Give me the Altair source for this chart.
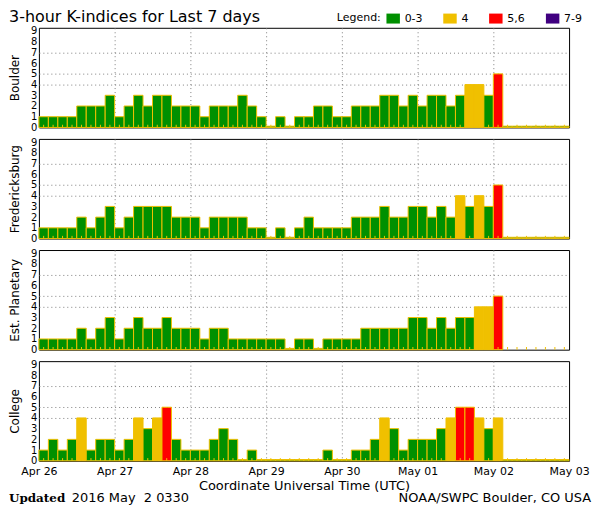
import json
import altair as alt
import pandas as pd

FONT = "DejaVu Sans"
TITLE = "3-hour K-indices for Last 7 days"
STATIONS = ["Boulder", "Fredericksburg", "Est. Planetary", "College"]

BOULDER = [1, 1, 1, 1, 2, 2, 2, 3,
           1, 2, 3, 2, 3, 3, 2, 2,
           2, 1, 2, 2, 2, 3, 2, 1,
           0, 1, 0, 1, 1, 2, 2, 1,
           1, 2, 2, 2, 3, 3, 2, 3,
           2, 3, 3, 2, 3, 4, 4, 3,
           5, 0, 0, 0, 0, 0, 0, 0]
FREDERICKSBURG = [1, 1, 1, 1, 2, 1, 2, 3,
                  1, 2, 3, 3, 3, 3, 2, 2,
                  2, 1, 2, 2, 2, 2, 1, 1,
                  0, 1, 0, 1, 2, 1, 1, 1,
                  1, 2, 2, 2, 3, 2, 2, 3,
                  3, 2, 3, 2, 4, 3, 4, 3,
                  5, 0, 0, 0, 0, 0, 0, 0]
PLANETARY = [1, 1, 1, 1, 2, 1, 2, 3,
             1, 2, 3, 2, 2, 3, 2, 2,
             2, 1, 2, 2, 1, 1, 1, 1,
             1, 1, 0, 1, 1, 0, 1, 1,
             1, 1, 2, 2, 2, 2, 2, 3,
             3, 2, 3, 2, 3, 3, 4, 4,
             5, None, None, None, None, None, None, None]
COLLEGE = [1, 2, 1, 2, 4, 1, 2, 2,
           1, 2, 4, 3, 4, 5, 2, 1,
           1, 1, 2, 3, 2, 0, 1, 0,
           0, 0, 0, 0, 0, 0, 1, 0,
           0, 1, 1, 2, 4, 3, 1, 2,
           2, 2, 3, 4, 5, 5, 4, 3,
           4, 0, 0, 0, 0, 0, 0, 0]
SERIES = [BOULDER, FREDERICKSBURG, PLANETARY, COLLEGE]

DAY_LABELS = ["Apr 26", "Apr 27", "Apr 28", "Apr 29", "Apr 30", "May 01", "May 02", "May 03"]
SLOTS_PER_DAY = 8
LEVEL_LABELS = ["0-3", "4", "5,6", "7-9"]
LEVEL_COLORS = ["#009000", "#f0c000", "#ff0000", "#400080"]
GRID_LEVELS = [4, 5, 7]
Y_LABELS = list(range(10))
X_TITLE = "Coordinate Universal Time (UTC)"
UPDATED_LABEL = "Updated"
UPDATED_TIME = "2016 May\u00a0 2 0330"
CREDIT = "NOAA/SWPC Boulder, CO USA"

W, H = 532, 100
OUTLINE = "#f0c000"
GRID = "#808080"

n_slots = SLOTS_PER_DAY * (len(DAY_LABELS) - 1)
day_bounds = [i * SLOTS_PER_DAY for i in range(len(DAY_LABELS))]
xscale = alt.Scale(domain=[0, n_slots], nice=False, zero=False)
yscale = alt.Scale(domain=[0, 9.3], nice=False)

y_grid_test = " || ".join(f"datum.value == {g}" for g in GRID_LEVELS)
x_grid_test = f"datum.value > 0 && datum.value < {n_slots}"


def y_axis(title):
    return alt.Axis(
        title=title, values=Y_LABELS, labelFont=FONT, labelFontSize=10,
        labelColor="black", labelPadding=2, labelOverlap=False, labelFlush=False,
        ticks=False, tickSize=0, domain=False, grid=True, gridColor=GRID,
        gridDash=[1, 3], gridOpacity={"condition": {"test": y_grid_test, "value": 1}, "value": 0},
        titleFont=FONT, titleFontSize=12, titleFontWeight="normal", titleColor="black",
        titlePadding=9,
    )


def x_axis(show):
    common = dict(
        values=day_bounds, ticks=False, tickSize=0, domain=False, grid=True,
        gridColor=GRID, gridDash=[1, 3],
        gridOpacity={"condition": {"test": x_grid_test, "value": 1}, "value": 0},
    )
    if not show:
        return alt.Axis(labels=False, title=None, **common)
    return alt.Axis(
        labels=True, title=X_TITLE,
        labelExpr=f"{json.dumps(DAY_LABELS)}[round(datum.value / {SLOTS_PER_DAY})]",
        labelFont=FONT, labelFontSize=11, labelColor="black", labelPadding=5,
        labelFlush=False, labelOverlap=False,
        titleFont=FONT, titleFontSize=13, titleFontWeight="normal", titleColor="black",
        titlePadding=3, **common,
    )


def text_layer(txt, x, y, size=13, align="left", font=FONT, weight="normal"):
    return alt.Chart(pd.DataFrame({"text": [txt]})).mark_text(
        align=align, baseline="alphabetic", font=font, fontSize=size,
        fontWeight=weight, color="black",
    ).encode(text="text:N", x=alt.value(x), y=alt.value(y))


panels = []
for idx, (name, values) in enumerate(zip(STATIONS, SERIES)):
    first = idx == 0
    last = idx == len(STATIONS) - 1
    df = pd.DataFrame({"slot": list(range(n_slots)), "k": values})
    xa = x_axis(last)
    ya = y_axis(name)
    if first:
        legend = alt.Legend(
            orient="none", legendX=299, legendY=-15, direction="horizontal",
            title="Legend:", titleOrient="left", titleFont=FONT, titleFontSize=11,
            titleFontWeight="normal", titleColor="black", titlePadding=6,
            titleBaseline="middle", titleAnchor="middle",
            labelFont=FONT, labelFontSize=11, labelColor="black", labelOffset=6,
            symbolType="M-1.35,-1H1.35V1H-1.35Z", symbolSize=100,
            symbolStrokeWidth=0, symbolOpacity=1, columnPadding=20, padding=0,
        )
    else:
        legend = None
    color = alt.Color("level:N", scale=alt.Scale(domain=LEVEL_LABELS, range=LEVEL_COLORS),
                      legend=legend)
    bars = alt.Chart(df).transform_filter("isValid(datum.k)").transform_calculate(
        end="datum.slot + 1",
        base="0",
        shown="max(datum.k, 0.12)",
        level="datum.k <= 3 ? '0-3' : datum.k == 4 ? '4' : datum.k <= 6 ? '5,6' : '7-9'",
    ).mark_bar(stroke=OUTLINE, strokeWidth=1).encode(
        x=alt.X("slot:Q", scale=xscale, axis=xa),
        x2="end:Q",
        y=alt.Y("shown:Q", scale=yscale, axis=ya),
        y2="base:Q",
        color=color,
    )
    ticks = alt.Chart(df).transform_calculate(
        mid="datum.slot + 0.5", t0="0", t1="0.25",
    ).mark_rule(color=OUTLINE, strokeWidth=1).encode(
        x=alt.X("mid:Q", scale=xscale, axis=xa),
        y=alt.Y("t0:Q", scale=yscale, axis=ya),
        y2="t1:Q",
    )
    layers = [bars, ticks]
    if first:
        layers.append(text_layer(TITLE, -30, -5.5, size=16))
    if last:
        layers.append(text_layer(UPDATED_LABEL, -30, H + 41, size=12, font="DejaVu Serif", weight="bold"))
        layers.append(text_layer(UPDATED_TIME, 33, H + 41, size=13))
        layers.append(text_layer(CREDIT, 554, H + 41, size=13, align="right"))
    panels.append(alt.layer(*layers).properties(width=W, height=H))

chart = alt.vconcat(*panels, spacing=11.5, bounds="flush").resolve_scale(color="independent").properties(
    padding=0, background="white"
).configure_view(stroke="black", strokeWidth=1)

chart.save("out.html", embed_options={"renderer": "svg", "actions": False})
